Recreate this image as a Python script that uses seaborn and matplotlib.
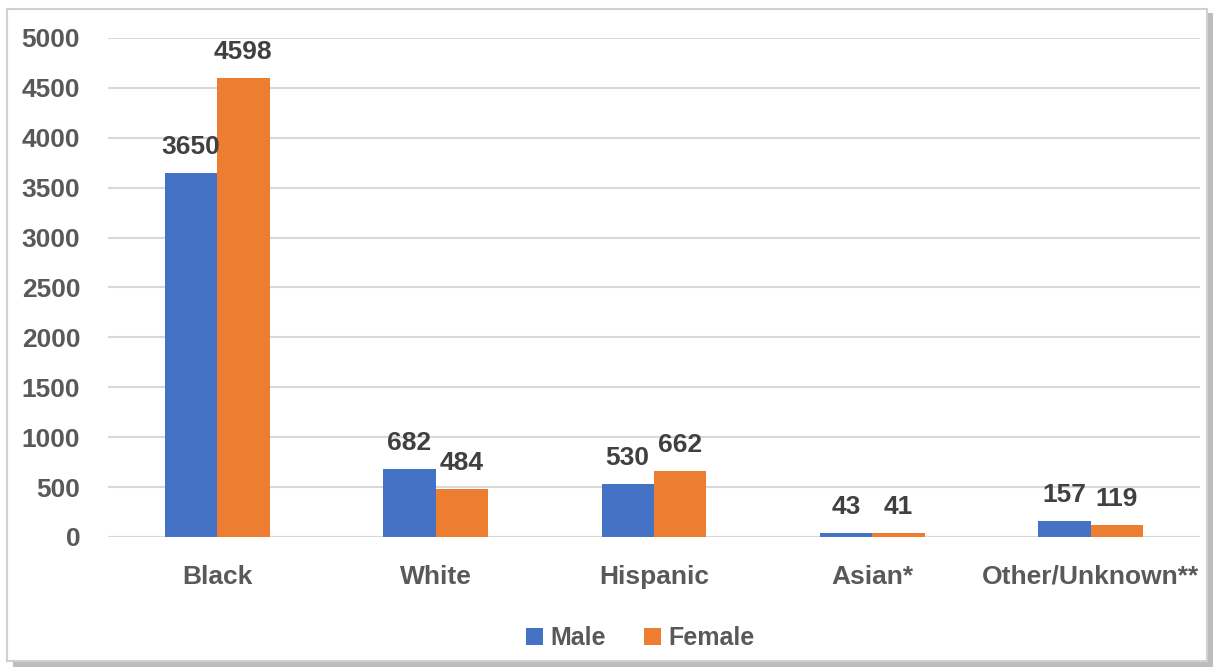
import pandas as pd
import matplotlib.pyplot as plt
import seaborn as sns
from matplotlib.patches import Rectangle

# ---------------------------------------
# Data
# ---------------------------------------
groups = ["Black", "White", "Hispanic", "Asian*", "Other/Unknown**"]
male = [3650, 682, 530, 43, 157]
female = [4598, 484, 662, 41, 119]
yticks = [0, 500, 1000, 1500, 2000, 2500, 3000, 3500, 4000, 4500, 5000]

df = pd.DataFrame({
    "Group": groups * 2,
    "Sex": ["Male"] * len(groups) + ["Female"] * len(groups),
    "Count": male + female,
})

sns.set_style("white")
plt.rcParams["font.family"] = ["Liberation Sans", "DejaVu Sans"]
plt.rcParams["font.weight"] = "bold"

fig = plt.figure(figsize=(12.2, 6.72), dpi=100)

# outer frame with a soft shadow
fig.patches.append(Rectangle((0.011, 0.008), 0.983, 0.972, transform=fig.transFigure,
                             facecolor="#bdbdbd", edgecolor="none", zorder=0))
fig.patches.append(Rectangle((0.006, 0.016), 0.983, 0.970, transform=fig.transFigure,
                             facecolor="white", edgecolor="#d0d0d0", linewidth=1.5, zorder=1))

ax = fig.add_axes([0.0885, 0.2009, 0.895, 0.7426])
ax.set_zorder(2)
ax.patch.set_alpha(0)

sns.barplot(data=df, x="Group", y="Count", hue="Sex", palette=["#4472C4", "#ED7D31"],
            width=0.48, saturation=1, linewidth=0, ax=ax, legend=True)

for cont in ax.containers:
    ax.bar_label(cont, padding=10, fontsize=19, fontweight="bold", color="#404040")

ax.set_ylim(0, 5000)
ax.set_yticks(yticks)
ax.yaxis.grid(True, color="#d9d9d9", linewidth=1.5)
ax.set_axisbelow(True)
for s in ax.spines.values():
    s.set_visible(False)
ax.axhline(0, color="#d9d9d9", linewidth=1.5, zorder=0)
ax.tick_params(axis="y", length=0, pad=20, labelsize=19, labelcolor="#595959")
ax.tick_params(axis="x", length=0, pad=20, labelsize=19, labelcolor="#595959")
ax.set_xlabel("")
ax.set_ylabel("")

leg = ax.legend(loc="center", bbox_to_anchor=(0.525, 0.05), bbox_transform=fig.transFigure,
                ncol=2, frameon=False, fontsize=18, handlelength=0.7, handleheight=0.7,
                handletextpad=0.3, columnspacing=1.5)
for t in leg.get_texts():
    t.set_color("#595959")

fig.savefig("out.png", dpi=100)
